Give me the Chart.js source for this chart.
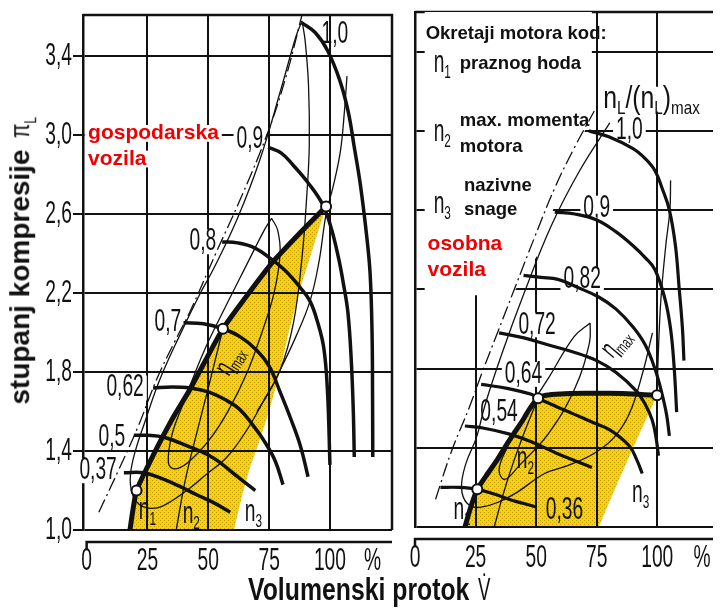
<!DOCTYPE html>
<html>
<head>
<meta charset="utf-8">
<script src="https://cdn.jsdelivr.net/npm/chart.js@4.4.1/dist/chart.umd.min.js"></script>
<style>
  html, body { margin: 0; padding: 0; background: #fff; }
  #wrap { position: relative; width: 720px; height: 608px; overflow: hidden; background: #fff; }
  canvas { position: absolute; top: 0; }
  #left { left: 0; }
  #right { left: 400px; }
  .title { position: absolute; white-space: nowrap; font-family: "Liberation Sans", Arial, sans-serif; font-weight: bold; color: #111; }
  .title .pi { font-weight: normal; display: inline-block; transform: scaleX(0.75); }
  .title sub { font-size: 16px; }
  #ytitle { font-size: 28px; left: 22px; top: 259px; transform: translate(-50%, -50%) rotate(-90deg); }
  #xtitle { font-size: 31px; left: 248px; top: 572px; transform-origin: left top; transform: scaleX(0.8); }
</style>
</head>
<body>
<div id="wrap">
  <canvas id="left" width="400" height="608"></canvas>
  <canvas id="right" width="320" height="608"></canvas>
  <div class="title" id="ytitle">stupanj kompresije <span class="pi">π<sub>L</sub></span></div>
  <div class="title" id="xtitle">Volumenski protok <span class="pi">V̇</span></div>
</div>
<script>
/* Kennfeld: stupanj kompresije vs. volumenski protok, gospodarska / osobna vozila */

const SANS = '"Liberation Sans", Arial, sans-serif';

// axes
const yTicks = [1.0, 1.4, 1.8, 2.2, 2.6, 3.0, 3.4];
const xTicks = [0, 25, 50, 75, 100];
const xTickLabels = ['0', '25', '50', '75', '100'];

// ---- gospodarska vozila (left) ----
const leftFullLoad = [[17.8,1.0],[19,1.1],[20.5,1.2],[25,1.32],[30.3,1.45],[36,1.58],[41.4,1.69],[48,1.84],[56,2.02],[66,2.19],[76.6,2.36],[88,2.51],[98.4,2.64]];
const leftN3Edge = [[98.4,2.64],[93,2.43],[87.7,2.22],[83,2.0],[79.5,1.81],[75.4,1.62],[71,1.45],[67.2,1.32],[64,1.18],[60.5,1.0]];
const leftN2 = [[36.8,1.0],[40.5,1.25],[45,1.48],[50,1.72],[56,2.02]];
const leftCircles = [[20.5,1.2],[56,2.02],[98.4,2.64]];
const leftSpeed037 = [[15.3,1.29],[23.4,1.29],[31,1.26],[38.5,1.22],[45,1.18],[52,1.14],[59,1.09]];
const leftSpeed050 = [[19.4,1.48],[25,1.48],[31.7,1.47],[42.6,1.42],[50,1.38],[55,1.34],[62,1.27],[69.3,1.2]];
const leftSpeed062 = [[27.3,1.72],[35,1.725],[42.6,1.72],[50,1.7],[57,1.66],[63,1.61],[68.4,1.53],[73,1.45],[77.5,1.35],[80.7,1.23]];
const leftSpeed070 = [[39.8,2.05],[48,2.045],[56,2.02],[63,1.98],[70,1.91],[75,1.83],[79.5,1.7],[84,1.56],[88,1.42],[91,1.27]];
const leftSpeed080 = [[55.7,2.46],[62,2.455],[69,2.43],[76.2,2.37],[82,2.31],[87.7,2.23],[91.8,2.16],[95,2.05],[97.5,1.92],[99,1.7],[100,1.33]];
const leftSpeed090 = [[74.6,2.94],[80,2.91],[84.8,2.85],[91,2.76],[97,2.65],[100.5,2.53],[103.5,2.38],[105.5,2.25],[107.4,2.1],[108.8,1.85],[109.6,1.6],[110,1.37]];
const leftSpeed100 = [[88.5,3.57],[94,3.52],[99,3.43],[104,3.28],[107.5,3.12],[110,2.94],[112.5,2.75],[115,2.5],[116.5,2.3],[117.3,2.0],[117.5,1.7],[117.6,1.37]];
const leftSurge = [[5,1.09],[13,1.3],[21,1.52],[29,1.77],[36,1.95],[42.6,2.11],[53,2.4],[64,2.7],[74.6,3.02],[82,3.3],[88.5,3.61]];
const leftEtaOuter = [[88.5,3.58],[86,3.5],[80,3.24],[71.3,2.88],[62,2.58],[52,2.32],[46.7,2.2],[38,1.98],[30,1.76],[24,1.55],[20,1.4],[18,1.28],[18.6,1.19],[21.5,1.13],[26,1.11],[31,1.12],[40,1.19],[49,1.28],[57.7,1.37],[66,1.51],[72.5,1.65],[79.5,1.81],[85,2.05],[88.5,2.38],[90.5,2.7],[91.5,2.95],[91.2,3.25],[89.8,3.48],[88.5,3.58]];
const leftEtaWide = [[70,1.6],[75,1.7],[79.5,1.81],[86,1.98],[91.8,2.16],[95.5,2.36],[98.4,2.6],[101.5,2.75],[104.3,2.92],[105.8,3.1],[107,3.3]];
const leftEtaMax = [[76,2.58],[78.5,2.52],[79.5,2.4],[77,2.2],[72,2.0],[66,1.8],[58,1.6],[50,1.45],[41.4,1.34],[36,1.31],[33.6,1.34],[35,1.48],[40,1.65],[48,1.9],[57,2.13],[66,2.35],[73,2.52],[76,2.58]];

// ---- osobna vozila (right) ----
const rightFullLoad = [[20.6,1.0],[23,1.1],[25.7,1.19],[30,1.27],[34,1.34],[37.5,1.41],[40.7,1.47],[44,1.53],[47.5,1.6],[50.8,1.65],[54,1.665],[60,1.672],[70,1.675],[80,1.675],[90,1.672],[99.9,1.665]];
const rightN3Edge = [[99.9,1.665],[91.5,1.44],[83.5,1.22],[75.8,1.0]];
const rightN2 = [[32.7,1.0],[36.5,1.17],[40.7,1.33],[45.5,1.49],[50.8,1.65]];
const rightN3Up = [[99.9,1.665],[100.5,1.9],[101.5,2.15],[103.5,2.42],[105.2,2.6],[105.5,2.75]];
const rightCircles = [[25.7,1.19],[50.8,1.65],[99.9,1.665]];
const rightSpeed036 = [[10.5,1.2],[18,1.2],[25.7,1.19],[33,1.165],[40,1.135],[46,1.115],[50.1,1.1]];
const rightSpeed054 = [[20.6,1.51],[28,1.5],[38.7,1.47],[48,1.43],[58.9,1.37],[66,1.335],[73,1.3]];
const rightSpeed064 = [[27.3,1.72],[38,1.7],[48,1.67],[50.8,1.65],[58,1.61],[65.6,1.57],[73,1.53],[80.4,1.49],[88.4,1.41],[91.5,1.34],[93.8,1.27]];
const rightSpeed072 = [[34.7,1.98],[45,1.955],[54.8,1.92],[65,1.885],[75,1.84],[83,1.78],[91.1,1.69],[95,1.62],[97.9,1.54],[99.5,1.45],[100.5,1.36]];
const rightSpeed082 = [[44.8,2.27],[52,2.26],[59,2.25],[67,2.21],[76,2.16],[83,2.1],[90,2.01],[95,1.92],[99,1.8],[101.8,1.68],[103.8,1.57],[105,1.46]];
const rightSpeed090 = [[57.7,2.59],[66,2.58],[75,2.55],[83,2.49],[90,2.42],[95,2.36],[99,2.3],[103,2.16],[105.5,2.0],[107,1.8],[108,1.58]];
const rightSpeed100 = [[71.8,3.0],[80,2.97],[90,2.91],[95,2.86],[99,2.8],[102,2.71],[105,2.6],[107.5,2.42],[109,2.21],[110.4,2.0],[111,1.84]];
const rightSurge = [[8.5,1.14],[15,1.38],[22.6,1.61],[28,1.79],[33.4,1.96],[41,2.2],[49.6,2.47],[58,2.72],[66,2.92],[74,3.1]];
const rightEtaOuter = [[80.4,3.04],[68,2.8],[56.2,2.52],[45,2.18],[36,1.88],[29,1.62],[25.3,1.45],[21,1.32],[19.2,1.2],[21.5,1.12],[27.3,1.1],[40,1.16],[53.5,1.27],[63,1.31],[73.7,1.37],[82,1.45],[88.4,1.57],[94,1.78],[98,1.98]];
const rightEtaMax = [[72.3,2.03],[72,1.93],[66,1.7],[55,1.47],[43,1.31],[37,1.24],[34.7,1.29],[38,1.4],[43,1.52],[55,1.75],[65.6,1.96],[72.3,2.03]];

const pts = a => a.map(([x, y]) => ({ x, y }));

function curve(a, w, extra) {
    return Object.assign({
        data: pts(a), showLine: true, borderColor: '#111', borderWidth: w,
        pointRadius: 0, tension: 0.4, fill: false
    }, extra || {});
}

function circles(a) {
    return { data: pts(a), showLine: false, pointRadius: 5, pointBorderWidth: 2,
             pointBackgroundColor: '#fff', pointBorderColor: '#111' };
}

function stipple(ctx) {
    const c = document.createElement('canvas');
    c.width = 4; c.height = 4;
    const g = c.getContext('2d');
    g.fillStyle = '#fbcf00';
    g.fillRect(0, 0, 4, 4);
    g.fillStyle = 'rgba(120,100,30,0.45)';
    g.fillRect(0, 0, 1, 1);
    g.fillRect(2, 2, 1, 1);
    return ctx.createPattern(c, 'repeat');
}

function area(a, ctx) {
    return { data: pts(a), showLine: true, borderWidth: 0, borderColor: 'rgba(0,0,0,0)',
             pointRadius: 0, tension: 0, fill: 'shape', backgroundColor: stipple(ctx) };
}

const DASH = { borderDash: [14, 4, 2, 4] };

// text styles: the scan uses a narrow DIN face, so plain sans is squeezed sideways
const NUM = { size: 31, sx: 0.62 };
const KEY = { size: 18.5, weight: 'bold', sx: 1 };
const RED = { size: 21, weight: 'bold', sx: 1, color: '#f00000' };

// labels, placed in data coordinates
const leftNotes = [
    { t: '1,0', x: 102, y: 3.51 },
    { t: '0,9', x: 67.1, y: 2.98, bg: true },
    { t: '0,8', x: 47.8, y: 2.46, bg: true },
    { t: '0,7', x: 33.4, y: 2.05, bg: true },
    { t: '0,62', x: 15.8, y: 1.72, bg: true },
    { t: '0,5', x: 10.4, y: 1.47, bg: true },
    { t: '0,37', x: 4.7, y: 1.3, bg: true },
    { runs: [['n', 0], ['1', 1]], x: 25, y: 1.1 },
    { runs: [['n', 0], ['2', 1]], x: 43, y: 1.08 },
    { runs: [['n', 0], ['3', 1]], x: 68.5, y: 1.09 },
    { runs: [['η', 0], ['max', 1]], x: 58.9, y: 1.86, rot: -58, size: 28 },
    Object.assign({ t: 'gospodarska', x: 0.6, y: 3.01, align: 'left', bg: true }, RED),
    Object.assign({ t: 'vozila', x: 0.6, y: 2.88, align: 'left', bg: true }, RED)
];

const rightNotes = [
    Object.assign({ t: 'Okretaji motora kod:', x: 4.4, y: 3.49, align: 'left' }, KEY),
    { runs: [['n', 0], ['1', 1]], x: 7.7, y: 3.34, align: 'left' },
    Object.assign({ t: 'praznog hoda', x: 18.5, y: 3.34, align: 'left' }, KEY),
    { runs: [['n', 0], ['L', 1], ['/(', 0], ['n', 0], ['L', 1], [')', 0], ['max', 1]], x: 97.6, y: 3.16, size: 31, sx: 0.8, bg: true },
    { runs: [['n', 0], ['2', 1]], x: 7.7, y: 2.99, align: 'left' },
    Object.assign({ t: 'max. momenta', x: 18.5, y: 3.05, align: 'left' }, KEY),
    Object.assign({ t: 'motora', x: 18.5, y: 2.92, align: 'left' }, KEY),
    { runs: [['n', 0], ['3', 1]], x: 7.7, y: 2.63, align: 'left' },
    Object.assign({ t: 'nazivne', x: 20.2, y: 2.72, align: 'left' }, KEY),
    Object.assign({ t: 'snage', x: 20.2, y: 2.6, align: 'left' }, KEY),
    Object.assign({ t: 'osobna', x: 5.2, y: 2.43, align: 'left' }, RED),
    Object.assign({ t: 'vozila', x: 5.2, y: 2.295, align: 'left' }, RED),
    { t: '1,0', x: 88.5, y: 3.0, bg: true },
    { t: '0,9', x: 75, y: 2.61, bg: true },
    { t: '0,82', x: 69, y: 2.25, bg: true },
    { t: '0,72', x: 50.4, y: 2.02, bg: true },
    { t: '0,64', x: 44.8, y: 1.77, bg: true },
    { t: '0,54', x: 34.7, y: 1.58, bg: true },
    { t: '0,36', x: 61.7, y: 1.085 },
    { runs: [['n', 0], ['1', 1]], x: 19.4, y: 1.085 },
    { runs: [['n', 0], ['2', 1]], x: 45.6, y: 1.34 },
    { runs: [['n', 0], ['3', 1]], x: 93.1, y: 1.17 },
    { runs: [['η', 0], ['max', 1]], x: 83, y: 1.93, rot: -50, size: 28 }
];

// white area behind the key text on the right panel
const rightMask = [[4,3.6],[73,3.6],[73,3.08],[60,2.72],[52,2.4],[40,2.17],[4,2.17]];

function fontOf(n, sub) {
    const size = n.size || NUM.size;
    return `${n.weight || 'normal'} ${sub ? Math.round(size * 0.62) : size}px ${SANS}`;
}

function textWidth(ctx, n) {
    const sx = n.sx || NUM.sx;
    let w = 0;
    (n.runs || [[n.t, 0]]).forEach(([s, sub]) => { ctx.font = fontOf(n, sub); w += ctx.measureText(s).width; });
    return w * sx;
}

// draws one label; bgOnly paints the white knock-out box
function drawNote(ctx, n, px, py, bgOnly) {
    const size = n.size || NUM.size;
    const sx = n.sx || NUM.sx;
    const w = textWidth(ctx, n);
    const left = n.align === 'left' ? 0 : n.align === 'right' ? -w : -w / 2;
    ctx.save();
    ctx.translate(px, py);
    if (n.rot) ctx.rotate(n.rot * Math.PI / 180);
    if (bgOnly) {
        ctx.fillStyle = '#fff';
        ctx.fillRect(left - 3, -size * 0.4, w + 6, size * 0.8);
        ctx.restore();
        return;
    }
    ctx.translate(left, 0);
    ctx.scale(sx, 1);
    ctx.fillStyle = n.color || '#111';
    ctx.textAlign = 'left';
    ctx.textBaseline = 'middle';
    let cx = 0;
    (n.runs || [[n.t, 0]]).forEach(([s, sub]) => {
        ctx.font = fontOf(n, sub);
        ctx.fillText(s, cx, sub ? size * 0.3 : 0);
        cx += ctx.measureText(s).width;
    });
    ctx.restore();
}

function notesPlugin(items, mask, yLabels) {
    return {
        id: 'notes',
        beforeDatasetsDraw(chart) {
            const { ctx, chartArea: ca, scales: { x, y } } = chart;
            ctx.save();
            ctx.strokeStyle = '#111';
            ctx.lineWidth = 2.5;
            ctx.beginPath();
            ctx.moveTo(ca.left, ca.top);
            ctx.lineTo(ca.right, ca.top);
            if (chart.canvas.id === 'left') ctx.lineTo(ca.right, ca.bottom);
            ctx.stroke();
            if (mask) {
                ctx.fillStyle = '#fff';
                ctx.beginPath();
                mask.forEach(([mx, my], i) => {
                    const px = x.getPixelForValue(mx), py = y.getPixelForValue(my);
                    i ? ctx.lineTo(px, py) : ctx.moveTo(px, py);
                });
                ctx.closePath();
                ctx.fill();
            }
            ctx.restore();
            items.filter(n => n.bg).forEach(n => drawNote(ctx, n, x.getPixelForValue(n.x), y.getPixelForValue(n.y), true));
        },
        afterDatasetsDraw(chart) {
            const { ctx, scales: { x, y } } = chart;
            items.forEach(n => drawNote(ctx, n, x.getPixelForValue(n.x), y.getPixelForValue(n.y), false));
        },
        afterDraw(chart) {
            const { ctx, chartArea: ca, scales: { x, y } } = chart;
            // detached x axis line under the plot
            const yy = ca.bottom + 12;
            const x0 = x.getPixelForValue(0);
            ctx.save();
            ctx.strokeStyle = '#111';
            ctx.lineWidth = 2.5;
            ctx.beginPath();
            ctx.moveTo(x0, yy + 8);
            ctx.lineTo(x0, yy);
            ctx.lineTo(ca.right, yy);
            ctx.stroke();
            ctx.restore();
            // tick labels in the narrow face, at the scale's own tick positions
            x.ticks.forEach(t => {
                const lab = t.value === chart.pctAt ? '%' : xTickLabels[xTicks.indexOf(t.value)];
                drawNote(ctx, { t: lab }, x.getPixelForValue(t.value), ca.bottom + 31, false);
            });
            if (yLabels) {
                y.ticks.forEach(t => {
                    drawNote(ctx, { t: t.value.toFixed(1).replace('.', ','), align: 'right' },
                             ca.left - 11, y.getPixelForValue(t.value), false);
                });
            }
        }
    };
}

function makeChart(id, cfg) {
    const canvas = document.getElementById(id);
    const ctx = canvas.getContext('2d');
    const chart = new Chart(ctx, {
        type: 'scatter',
        data: { datasets: cfg.datasets(ctx) },
        options: {
            responsive: false,
            animation: false,
            events: [],
            layout: { padding: { top: cfg.top, right: cfg.right, left: 0, bottom: 0 } },
            plugins: {
                legend: { display: false },
                tooltip: { enabled: false },
                filler: { drawTime: 'beforeDraw' }
            },
            scales: {
                x: {
                    type: 'linear', min: cfg.xMin, max: cfg.xMax,
                    afterBuildTicks: s => { s.ticks = xTicks.concat([cfg.pctAt]).map(v => ({ value: v })); },
                    afterFit: s => { s.height = cfg.xHeight; },
                    border: { display: false },
                    grid: {
                        drawTicks: false, lineWidth: 2,
                        color: c => (c.tick && c.tick.value > 0 && c.tick.value <= 100) ? '#111' : 'rgba(0,0,0,0)'
                    },
                    ticks: { display: false }
                },
                y: {
                    type: 'linear', min: 1.0, max: cfg.yMax,
                    afterBuildTicks: s => { s.ticks = yTicks.map(v => ({ value: v })); },
                    afterFit: s => { s.width = cfg.yWidth; },
                    border: { color: '#111', width: 2.5 },
                    grid: { color: '#111', lineWidth: 2, tickLength: cfg.yLabels ? 10 : 0, drawTicks: cfg.yLabels },
                    ticks: { display: false }
                }
            }
        },
        plugins: [notesPlugin(cfg.notes, cfg.mask, cfg.yLabels)]
    });
    chart.pctAt = cfg.pctAt;
    chart.draw();
    return chart;
}

makeChart('left', {
    xMin: -1.5, xMax: 125.5, yMax: 3.61, top: 15, right: 8, xHeight: 78, yWidth: 83, yLabels: true,
    pctAt: 117.5, notes: leftNotes,
    datasets: ctx => [
        circles(leftCircles),
        curve(leftSpeed100, 3.5), curve(leftSpeed090, 3.5), curve(leftSpeed080, 3.5), curve(leftSpeed070, 3.5),
        curve(leftSpeed062, 3.5), curve(leftSpeed050, 3.5), curve(leftSpeed037, 3.5),
        curve(leftFullLoad, 5, { tension: 0.2 }),
        curve(leftN2, 1.3), curve(leftEtaWide, 1.3),
        curve(leftEtaMax, 1.3), curve(leftEtaOuter, 1.3),
        curve(leftSurge, 1.3, DASH),
        area(leftFullLoad.concat(leftN3Edge.slice(1)), ctx)
    ]
});

makeChart('right', {
    xMin: 0, xMax: 123, yMax: 3.6, top: 12, right: 0, xHeight: 81, yWidth: 15, yLabels: false,
    pctAt: 118.5, notes: rightNotes, mask: rightMask,
    datasets: ctx => [
        circles(rightCircles),
        curve(rightSpeed100, 3.2), curve(rightSpeed090, 3.2), curve(rightSpeed082, 3.2), curve(rightSpeed072, 3.2),
        curve(rightSpeed064, 3.2), curve(rightSpeed054, 3.2), curve(rightSpeed036, 3.2),
        curve(rightFullLoad, 5, { tension: 0.2 }),
        curve(rightN2, 1.3), curve(rightN3Up, 1.3),
        curve(rightEtaMax, 1.3), curve(rightEtaOuter, 1.3),
        curve(rightSurge, 1.3, DASH),
        area(rightFullLoad.concat(rightN3Edge.slice(1)), ctx)
    ]
});
</script>
</body>
</html>
